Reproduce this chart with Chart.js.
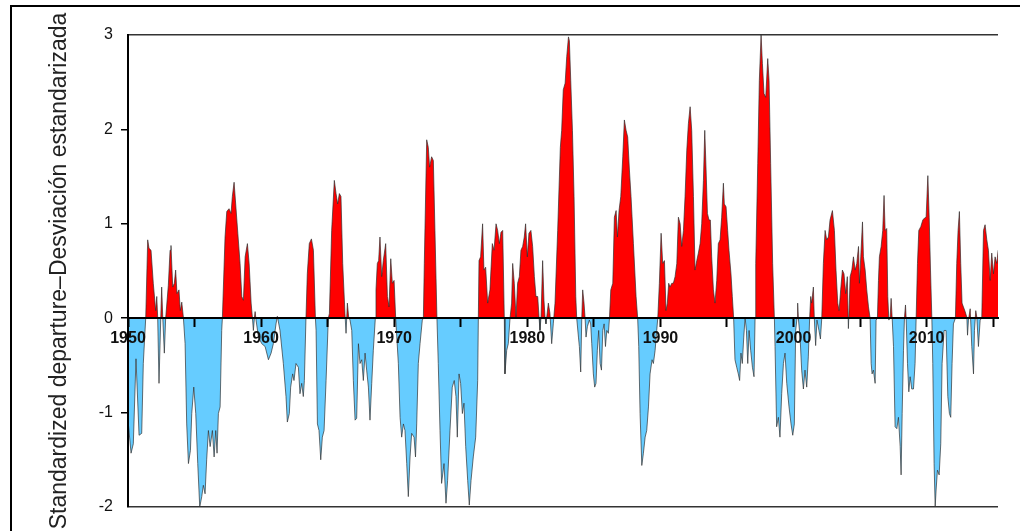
<!DOCTYPE html>
<html>
<head>
<meta charset="utf-8">
<script src="https://cdn.jsdelivr.net/npm/chart.js@4.4.0/dist/chart.umd.min.js"></script>
<style>
  html, body { margin: 0; padding: 0; background: #fff; overflow: hidden; }
  #wrap { position: relative; width: 1020px; height: 531px; overflow: hidden; }
  #frame { position: absolute; left: 10px; top: 5px; width: 1100px; height: 600px; border: 2px solid #000; }
  #chart { position: absolute; left: 0; top: 0; }
</style>
</head>
<body>
<div id="wrap">
  <div id="frame"></div>
  <canvas id="chart" width="1020" height="531"></canvas>
</div>
<script>
// time axis (decimal years), one line per warm/cold episode
const years = [
  1950.00,1950.23,1950.40,1950.60,1950.83,1951.03,1951.15,1951.33,1951.48,1951.58,1951.73,1951.90,1952.08,1952.16,1952.23,1952.33,1952.46,1952.53,1952.61,1952.73,1952.83,
  1953.03,1953.16,1953.23,1953.36,1953.48,1953.58,1953.68,1953.83,1953.93,1954.04,1954.16,
  1954.29,1954.41,1954.54,1954.69,1954.79,1954.94,1955.09,1955.24,1955.39,1955.54,1955.66,1955.79,1955.91,1956.04,1956.17,1956.34,1956.47,1956.59,1956.69,1956.79,1956.92,1957.04,
  1957.09,1957.29,1957.42,1957.59,1957.74,1957.84,1957.97,1958.09,1958.25,1958.42,1958.55,1958.67,1958.80,1958.97,1959.10,1959.25,1959.35,
  1959.42,1959.50,1959.55,1959.62,1959.80,1960.05,1960.30,1960.55,1960.75,1960.92,1961.12,1961.22,
  1961.42,1961.67,1961.87,1961.97,1962.12,1962.22,1962.37,1962.47,1962.62,1962.80,1962.92,1963.05,1963.17,1963.25,1963.37,
  1963.47,1963.62,1963.78,1963.93,1964.08,1964.13,1964.23,1964.35,1964.48,1964.60,1964.73,1964.88,1965.05,
  1965.13,1965.30,1965.50,1965.63,1965.75,1965.88,1966.00,1966.13,1966.30,1966.38,1966.48,1966.58,
  1966.68,1966.81,1966.93,1967.06,1967.18,1967.31,1967.43,1967.56,1967.68,1967.81,1967.93,1968.06,1968.18,1968.31,1968.43,1968.58,
  1968.63,1968.73,1968.83,1968.93,1969.06,1969.18,1969.36,1969.49,1969.61,1969.74,1969.86,1969.99,1970.11,
  1970.31,1970.44,1970.56,1970.69,1970.81,1970.94,1971.06,1971.19,1971.31,1971.49,1971.60,1971.69,1971.81,1971.94,1972.11,1972.19,
  1972.26,1972.44,1972.56,1972.66,1972.81,1972.94,1973.06,1973.21,
  1973.31,1973.44,1973.56,1973.74,1973.89,1974.01,1974.19,1974.36,1974.51,1974.64,1974.74,1974.87,1974.99,1975.12,1975.24,1975.37,1975.52,1975.64,1975.77,1975.94,1976.12,1976.27,1976.32,
  1976.37,1976.49,1976.64,1976.74,1976.87,1977.02,1977.19,1977.37,1977.50,1977.65,1977.77,1977.90,1978.02,1978.15,1978.27,
  1978.32,1978.45,1978.57,1978.70,1978.82,1978.90,1979.02,1979.15,1979.27,1979.40,1979.52,1979.65,1979.77,1979.87,1980.00,1980.12,1980.27,1980.40,1980.53,1980.65,1980.78,1980.88,
  1980.95,1981.03,1981.15,1981.25,1981.33,1981.40,1981.58,1981.70,1981.83,1981.95,1982.08,
  1982.28,1982.48,1982.58,1982.70,1982.84,1982.96,1983.09,1983.16,1983.26,1983.39,1983.51,1983.64,1983.71,
  1983.84,1983.91,1984.01,1984.09,1984.16,1984.26,1984.34,1984.41,1984.51,1984.66,1984.76,1984.84,1984.96,1985.06,1985.16,1985.26,1985.36,1985.47,1985.57,1985.67,1985.77,1985.87,1985.97,1986.09,1986.17,
  1986.27,1986.42,1986.54,1986.67,1986.77,1986.89,1987.02,1987.17,1987.29,1987.42,1987.54,1987.67,1987.79,1987.97,1988.17,1988.29,
  1988.37,1988.47,1988.60,1988.72,1988.85,1988.97,1989.10,1989.22,1989.37,1989.47,1989.60,1989.72,1989.80,
  1989.92,1990.05,1990.17,1990.30,1990.42,1990.52,1990.62,1990.72,1990.85,1990.97,1991.10,1991.23,1991.35,1991.48,1991.60,1991.73,1991.85,1991.98,1992.10,1992.23,1992.35,1992.48,1992.60,1992.73,1992.85,1992.98,1993.10,1993.23,1993.33,1993.43,1993.53,1993.65,
  1993.75,1993.85,1993.98,1994.10,1994.23,1994.35,1994.48,1994.60,1994.73,1994.80,1994.93,1995.05,1995.15,1995.30,1995.40,1995.50,
  1995.60,1995.73,1995.85,1995.95,1996.05,1996.15,1996.26,1996.36,1996.46,1996.56,1996.66,1996.78,1996.91,1997.03,1997.11,
  1997.16,1997.31,1997.43,1997.56,1997.66,1997.78,1997.91,1998.06,1998.16,1998.28,1998.43,1998.56,
  1998.61,1998.73,1998.86,1998.98,1999.11,1999.24,1999.36,1999.49,1999.66,1999.81,1999.94,2000.06,2000.16,2000.26,
  2000.31,2000.36,2000.49,2000.61,2000.74,2000.86,2000.99,2001.11,2001.21,2001.29,2001.36,2001.49,2001.56,2001.66,2001.76,2001.91,2002.02,2002.12,
  2002.24,2002.37,2002.49,2002.62,2002.74,2002.92,2003.07,2003.19,2003.32,2003.42,2003.54,2003.67,2003.79,2003.92,2004.04,2004.12,2004.19,2004.25,2004.38,2004.50,2004.63,2004.75,2004.88,2004.95,2005.05,2005.18,2005.25,2005.38,2005.50,2005.63,2005.75,
  2005.83,2005.90,2006.00,2006.13,2006.20,2006.30,2006.38,2006.45,2006.58,2006.70,2006.80,2006.88,2007.00,2007.08,2007.16,2007.26,2007.33,2007.41,
  2007.51,2007.63,2007.76,2007.88,2008.01,2008.08,2008.16,2008.26,2008.33,2008.41,2008.46,2008.56,2008.66,2008.76,2008.88,2009.01,2009.13,2009.21,
  2009.31,2009.41,2009.56,2009.71,2009.83,2009.96,2010.09,2010.19,2010.29,2010.39,
  2010.46,2010.56,2010.64,2010.71,2010.81,2010.94,2011.06,2011.16,2011.31,2011.46,2011.59,2011.71,2011.81,2011.91,2012.01,2012.16,
  2012.26,2012.36,2012.46,2012.56,2012.66,2012.76,2012.89,2013.02,2013.07,2013.14,2013.27,2013.39,2013.52,2013.59,2013.69,2013.77,2013.89,2014.02,2014.14,2014.27,2014.39,2014.52,2014.64,2014.77,2014.89,2015.02,2015.14,2015.27,2015.37
];

// standardized departure, same layout as years
const mei = [
  -1.08,-1.43,-1.33,-0.43,-1.24,-1.22,-0.48,0,0.83,0.74,0.72,0.37,0.08,0.23,0.01,-0.69,0,0.33,0.01,-0.37,0,
  0.35,0.72,0.77,0.33,0.37,0.51,0.26,0.30,0.08,0.17,0.01,
  -0.27,-1.12,-1.54,-1.40,-1.01,-0.73,-1.01,-1.54,-2.00,-1.89,-1.77,-1.86,-1.50,-1.19,-1.36,-1.19,-1.47,-1.19,-1.43,-1.01,-0.94,-0.13,
  0,0.86,1.13,1.16,1.11,1.29,1.44,1.21,0.90,0.58,0.23,0.19,0.65,0.79,0.58,0.16,0,
  -0.13,0.01,0.07,-0.02,-0.20,-0.27,-0.30,-0.44,-0.37,-0.27,-0.06,0.02,
  -0.13,-0.48,-0.83,-1.10,-1.01,-0.73,-0.59,-0.66,-0.48,-0.52,-0.80,-0.69,-0.83,-0.66,0,
  0.47,0.79,0.84,0.72,0,-0.13,-1.12,-1.19,-1.50,-1.26,-1.19,-0.66,0,
  0.05,0.93,1.46,1.32,1.21,1.32,1.29,0.58,0.05,-0.16,0.16,0.01,
  -0.02,-0.13,-0.66,-1.08,-1.06,-0.27,-0.48,-0.44,-0.66,-0.37,-0.55,-0.73,-1.08,-0.69,-0.34,0,
  0.30,0.58,0.61,0.86,0.44,0.61,0.79,0.23,0.12,0.63,0.37,0.40,0,
  -0.48,-1.05,-1.26,-1.12,-1.19,-1.54,-1.89,-1.47,-1.22,-1.26,-1.47,-1.12,-0.48,-0.27,-0.02,0,
  0.58,1.89,1.81,1.60,1.71,1.67,0.93,0,
  -0.48,-1.19,-1.75,-1.54,-1.96,-1.72,-1.19,-0.73,-0.66,-0.83,-1.26,-0.59,-0.69,-1.01,-0.90,-1.36,-1.72,-1.98,-1.72,-1.47,-1.26,-0.66,0,
  0.61,0.65,1.00,0.51,0.54,0.16,0.30,0.79,0.72,1.00,0.93,0.79,0.91,0.93,0,
  -0.59,-0.34,-0.27,0,0.16,0.58,0.37,0.01,0.37,0.44,0.72,0.76,0.86,1.00,0.65,0.90,0.93,0.76,0.44,0.23,0.23,0.01,
  -0.13,0.01,0.61,0.19,0.01,-0.06,0.16,0.05,-0.27,-0.06,0.16,
  0.93,1.81,1.99,2.42,2.49,2.77,2.98,2.94,2.52,1.99,1.29,0.23,0,
  -0.20,-0.30,-0.57,0,0.30,0.16,0,-0.20,-0.09,-0.02,-0.06,-0.27,-0.59,-0.73,-0.69,-0.34,-0.13,-0.48,-0.55,-0.13,-0.06,-0.30,-0.13,-0.16,0,
  0.30,0.37,1.07,1.14,0.86,1.14,1.29,1.71,2.10,1.99,1.92,1.57,1.29,0.79,0.23,0,
  -0.30,-1.01,-1.56,-1.43,-1.26,-1.19,-0.94,-0.59,-0.44,-0.48,-0.34,-0.13,0,
  0.37,0.90,0.58,0.61,0.08,0.16,0.37,0.33,0.37,0.37,0.44,0.58,1.07,1.00,0.76,0.93,1.29,1.78,2.06,2.24,1.99,1.29,0.51,0.61,0.69,0.79,1.00,1.46,1.99,1.57,1.11,1.04,
  1.04,0.65,0.30,0.16,0.40,0.79,0.83,1.07,1.43,1.21,1.18,0.93,0.72,0.47,0.23,0,
  -0.44,-0.52,-0.59,-0.66,-0.37,-0.48,-0.20,0.01,-0.13,-0.48,-0.13,-0.34,-0.52,-0.62,0,
  0.58,1.64,2.52,3.00,2.70,2.38,2.34,2.75,2.52,1.64,0.58,0,
  -0.30,-1.15,-1.05,-1.26,-0.80,-0.48,-0.37,-0.69,-0.94,-1.12,-1.24,-1.12,-0.13,0,
  0.16,0,-0.20,-0.55,-0.75,-0.55,-0.73,-0.41,0,0.23,0.16,0.33,0,-0.29,-0.02,-0.13,-0.22,0,
  0.58,0.93,0.83,0.86,1.04,1.14,0.93,0.51,0.16,0.08,0.30,0.51,0.47,0.26,0.44,-0.11,0.16,0.44,0.51,0.65,0.51,0.58,0.76,0.37,0.65,1.02,0.65,0.51,0.30,0.12,0,
  -0.48,-0.59,-0.55,-0.69,-0.02,0,0.40,0.65,0.76,0.93,1.30,0.93,0.95,0.23,-0.02,0.01,0.21,0,
  -0.30,-1.15,-1.17,-1.05,-1.36,-1.66,-1.01,-0.34,0,0.14,0,-0.48,-0.78,-0.62,-0.75,-0.75,-0.48,0,
  0.58,0.93,0.97,1.04,1.06,1.07,1.51,1.07,0.51,0,
  -0.48,-1.54,-2.00,-1.82,-1.61,-1.66,-1.33,-0.48,-0.13,-0.13,-0.83,-1.01,-1.05,-0.48,-0.06,0,
  0.58,0.93,1.13,0.58,0.16,0.12,0.07,0.01,-0.18,-0.02,0.10,-0.30,-0.59,-0.13,0.08,0.01,-0.30,-0.02,0,0.93,0.99,0.83,0.72,0.40,0.69,0.47,0.65,0.58,0.72
];

// labelled years on the zero line (ticks every 5, labels every 10)
const labelYears = [1950, 1960, 1970, 1980, 1990, 2000, 2010];
const yTitle = "Standardized departure\u2013Desviación estandarizada";

const FONT = "'Liberation Sans', Arial, sans-serif";

chartIt();

function chartIt() {
  const points = years.map((yr, i) => ({ x: yr, y: mei[i] }));
  const ctx = document.getElementById("chart").getContext("2d");

  // only the 3 and -2 grid lines are drawn (top and bottom frame of the plot)
  const isEdge = (c) => c.tick && (c.tick.value === 3 || c.tick.value === -2);

  new Chart(ctx, {
    type: "line",
    data: {
      datasets: [
        {
          data: points,
          borderColor: "rgba(45,45,45,0.85)",
          borderWidth: 0.8,
          pointRadius: 0,
          tension: 0,
          fill: { target: "origin", above: "#ff0000", below: "#66ccff" },
        },
      ],
    },
    options: {
      responsive: false,
      animation: false,
      devicePixelRatio: 1,
      layout: { padding: { left: 40, top: 35, right: 22, bottom: 24 } },
      plugins: { legend: { display: false }, tooltip: { enabled: false } },
      scales: {
        x: {
          type: "linear",
          min: 1950,
          max: 2015.36,
          position: { y: 0 },
          grid: { z: 1, drawOnChartArea: false, tickLength: 8, tickWidth: 2, tickColor: "#000" },
          border: { z: 1, color: "#000", width: 2 },
          ticks: {
            z: 1,
            stepSize: 5,
            includeBounds: false,
            autoSkip: false,
            maxRotation: 0,
            padding: 3,
            color: "#111",
            font: { family: FONT, size: 16, weight: "bold" },
            callback: (v) => (labelYears.includes(v) ? String(v) : ""),
          },
        },
        y: {
          min: -2,
          max: 3,
          afterFit: (s) => { s.width = 88; },
          grid: {
            z: 1,
            color: (c) => (isEdge(c) ? "#333" : "rgba(0,0,0,0)"),
            lineWidth: 1.5,
            tickLength: 7,
            tickWidth: 1.5,
            tickColor: (c) => (isEdge(c) ? "rgba(0,0,0,0)" : "#000"),
          },
          border: { z: 1, color: "#000", width: 2 },
          ticks: {
            z: 1,
            stepSize: 1,
            padding: 8,
            color: "#111",
            font: { family: FONT, size: 16 },
            callback: (v) => String(v),
          },
          title: {
            display: true,
            text: yTitle,
            color: "#222",
            font: { family: FONT, size: 23 },
            padding: { top: 6, bottom: 0 },
          },
        },
      },
    },
  });
}
</script>
</body>
</html>
